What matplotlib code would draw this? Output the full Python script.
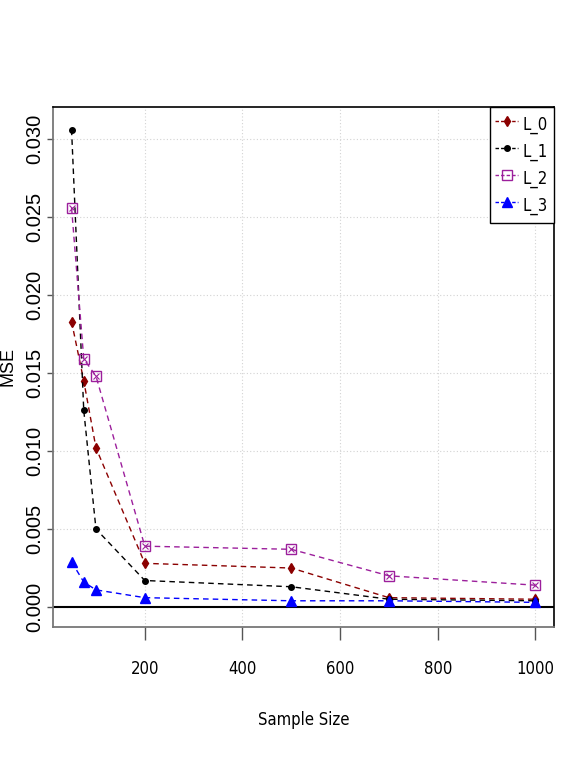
import matplotlib
matplotlib.use("Agg")
import matplotlib.pyplot as plt

# data
sample_size = [50, 75, 100, 200, 500, 700, 1000]
mse_l0 = [0.0183, 0.0145, 0.0102, 0.0028, 0.0025, 0.0006, 0.0005]
mse_l1 = [0.0306, 0.0126, 0.0050, 0.0017, 0.0013, 0.0005, 0.0004]
mse_l2 = [0.0256, 0.0159, 0.0148, 0.0039, 0.0037, 0.0020, 0.0014]
mse_l3 = [0.0029, 0.0016, 0.0011, 0.0006, 0.0004, 0.0004, 0.0003]

x_ticks = [200, 400, 600, 800, 1000]
y_ticks = [0.000, 0.005, 0.010, 0.015, 0.020, 0.025, 0.030]
y_tick_labels = ["0.000", "0.005", "0.010", "0.015", "0.020", "0.025", "0.030"]

narrow = dict(family="DejaVu Sans", stretch="condensed")

fig = plt.figure(figsize=(5.81, 7.63), dpi=100)
ax = fig.add_axes([53 / 581, 1 - 627 / 763, 501 / 581, 520 / 763])

col0, col1, col2, col3 = "#8b0000", "black", "#9c1f9c", "#0000ff"
dash = (0, (4, 3))

ax.plot(sample_size, mse_l0, color=col0, ls=dash, lw=1, marker="d", ms=5.5, label="L_0")
ax.plot(sample_size, mse_l1, color=col1, ls=dash, lw=1, marker="o", ms=4, label="L_1")
ax.plot(sample_size, mse_l2, color=col2, ls=dash, lw=1, marker="s", ms=6.5,
        mfc="none", mew=1, label="L_2")
ax.plot(sample_size, mse_l2, ls="none", color=col2, marker="x", ms=4.5, mew=0.8)
ax.plot(sample_size, mse_l3, color=col3, ls=dash, lw=1, marker="^", ms=6.5, label="L_3")

ax.axhline(0, color="black", lw=1.5, zorder=1)

ax.set_xlim(12, 1038)
ax.set_ylim(-0.00128, 0.03205)

ax.set_xticks(x_ticks)
ax.set_xticklabels([str(v) for v in x_ticks], fontsize=12, **narrow)
ax.set_yticks(y_ticks)
ax.set_yticklabels(y_tick_labels, rotation=90, va="center", family="Liberation Sans", fontsize=14.5)

ax.grid(True, color="#d3d3d3", ls=(0, (1, 2)), lw=0.8)
ax.set_axisbelow(True)

ax.tick_params(axis="x", length=9.5, width=1, color="#555555", pad=14)
ax.tick_params(axis="y", length=4.5, width=1, color="#555555", pad=2)

for s in ["left", "bottom"]:
    ax.spines[s].set_color("#777777")
    ax.spines[s].set_linewidth(1.3)
for s in ["top", "right"]:
    ax.spines[s].set_color("black")
    ax.spines[s].set_linewidth(1.2)

ax.set_xlabel("Sample Size", fontsize=12, labelpad=24, **narrow)
ax.set_ylabel("MSE", family="Liberation Sans", fontsize=13, labelpad=6)

handles, labels = ax.get_legend_handles_labels()
leg = ax.legend(handles, labels, loc="upper right", borderaxespad=0, fancybox=False,
                edgecolor="black", framealpha=1,
                prop={"family": "DejaVu Sans", "stretch": "condensed", "size": 12},
                handlelength=1.35, handletextpad=0.3, borderpad=0.35,
                labelspacing=0.2, handleheight=1.8)
leg.get_frame().set_linewidth(1)
for h in leg.get_lines():
    h.set_linestyle((0, (2.5, 1.5)))

fig.savefig("out.png", dpi=100)
